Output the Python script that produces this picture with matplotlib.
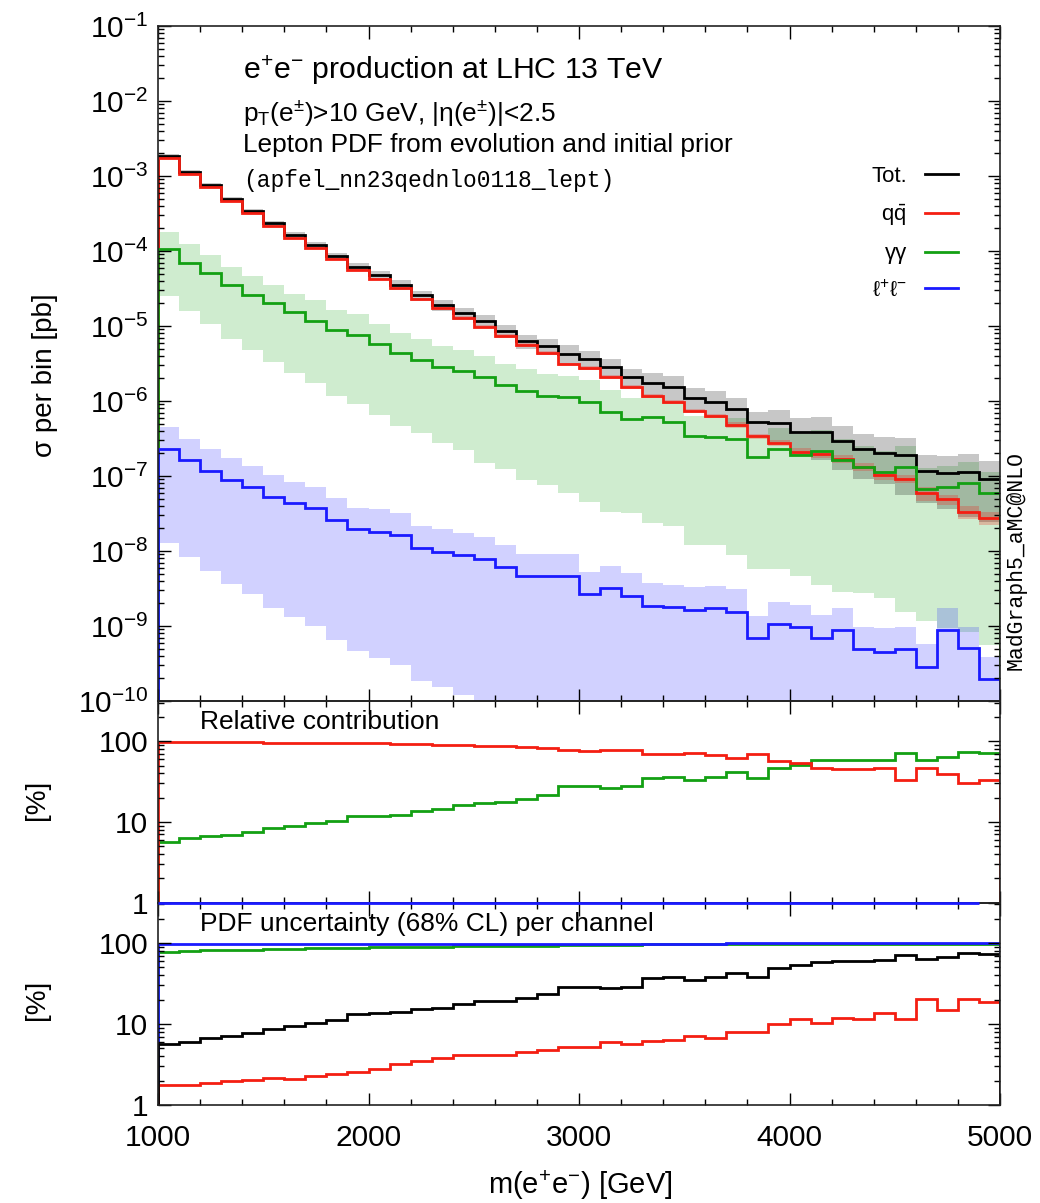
import numpy as np
import matplotlib
matplotlib.use("Agg")
import matplotlib.pyplot as plt
from matplotlib.ticker import LogLocator, MultipleLocator, FixedLocator, FixedFormatter, NullFormatter

plt.rcParams['font.family'] = ['Liberation Sans', 'DejaVu Sans']
plt.rcParams['mathtext.fontset'] = 'custom'
plt.rcParams['mathtext.rm'] = 'Liberation Sans'
plt.rcParams['mathtext.it'] = 'Liberation Sans:italic'
plt.rcParams['mathtext.default'] = 'regular'

# bin edges, m(e+e-) in GeV
edges = np.arange(1000, 5001, 100)

# top panel: log10(sigma per bin / pb)
tot_log = [-2.73, -2.95, -3.12, -3.31, -3.47, -3.63, -3.79, -3.92, -4.07, -4.21,
           -4.32, -4.45, -4.59, -4.72, -4.83, -4.93, -5.07, -5.20, -5.27, -5.37,
           -5.44, -5.55, -5.68, -5.76, -5.81, -5.96, -6.01, -6.11, -6.28, -6.29,
           -6.41, -6.41, -6.53, -6.64, -6.69, -6.72, -6.93, -6.96, -6.95, -7.04]
qq_log = [-2.76, -2.97, -3.15, -3.33, -3.49, -3.67, -3.83, -3.96, -4.11, -4.25,
          -4.37, -4.49, -4.64, -4.76, -4.89, -5.01, -5.13, -5.25, -5.36, -5.51,
          -5.56, -5.68, -5.81, -5.93, -6.01, -6.13, -6.20, -6.32, -6.47, -6.56,
          -6.68, -6.71, -6.77, -6.88, -6.99, -7.04, -7.23, -7.31, -7.48, -7.56]
aa_log = [-3.97, -4.16, -4.29, -4.45, -4.59, -4.69, -4.81, -4.93, -5.05, -5.12,
          -5.24, -5.36, -5.45, -5.55, -5.60, -5.68, -5.79, -5.87, -5.93, -5.95,
          -6.01, -6.15, -6.24, -6.21, -6.28, -6.47, -6.48, -6.51, -6.75, -6.64,
          -6.72, -6.67, -6.79, -6.88, -6.95, -6.88, -7.17, -7.15, -7.09, -7.23]
ll_log = [-6.64, -6.79, -6.93, -7.05, -7.15, -7.28, -7.36, -7.43, -7.59, -7.71,
          -7.75, -7.79, -7.96, -8.01, -8.05, -8.11, -8.21, -8.33, -8.33, -8.33,
          -8.57, -8.49, -8.60, -8.73, -8.75, -8.79, -8.76, -8.81, -9.16, -8.97,
          -9.01, -9.16, -9.05, -9.31, -9.35, -9.31, -9.55, -9.05, -9.29, -9.71]

# band edges for gamma-gamma and l+l- (log10 pb)
aa_up_log = [-3.75, -3.91, -4.05, -4.21, -4.33, -4.45, -4.57, -4.65, -4.79, -4.84,
             -4.97, -5.09, -5.17, -5.27, -5.32, -5.40, -5.51, -5.57, -5.64, -5.67,
             -5.72, -5.85, -5.96, -5.96, -6.03, -6.20, -6.21, -6.23, -6.47, -6.36,
             -6.44, -6.39, -6.51, -6.60, -6.67, -6.60, -6.89, -6.87, -6.81, -6.95]
aa_dn_log = [-4.60, -4.80, -4.97, -5.17, -5.32, -5.48, -5.63, -5.76, -5.93, -6.04,
             -6.19, -6.33, -6.43, -6.56, -6.65, -6.83, -6.91, -7.05, -7.12, -7.23,
             -7.35, -7.48, -7.49, -7.63, -7.67, -7.92, -7.92, -8.05, -8.24, -8.24,
             -8.33, -8.45, -8.55, -8.56, -8.63, -8.81, -8.93, -9.03, -9.08, -9.25]
ll_up_log = [-6.35, -6.51, -6.64, -6.76, -6.87, -6.99, -7.08, -7.15, -7.29, -7.43,
             -7.44, -7.49, -7.67, -7.71, -7.76, -7.81, -7.92, -8.04, -8.04, -8.04,
             -8.28, -8.20, -8.29, -8.43, -8.45, -8.48, -8.47, -8.51, -8.87, -8.68,
             -8.72, -8.85, -8.76, -9.01, -9.03, -9.01, -9.24, -8.76, -9.01, -9.41]
# below the frame from bin 15 on
ll_dn_log = [-7.89, -8.08, -8.27, -8.44, -8.57, -8.76, -8.88, -9.00, -9.19, -9.33,
             -9.43, -9.52, -9.73, -9.81, -9.92, -11.0, -11.0, -11.0, -11.0, -11.0,
             -11.0, -11.0, -11.0, -11.0, -11.0, -11.0, -11.0, -11.0, -11.0, -11.0,
             -11.0, -11.0, -11.0, -11.0, -11.0, -11.0, -11.0, -11.0, -11.0, -11.0]

# middle panel: relative contribution [%]
qq_frac = [99, 99, 98, 98, 97, 96, 96, 95, 94, 94,
           94, 92, 92, 91, 89, 88, 87, 85, 82, 77,
           76, 79, 77, 69, 69, 72, 68, 62, 70, 57,
           54, 46, 45, 45, 46, 33, 46, 39, 30, 33]
aa_frac = [5.7, 6.3, 6.7, 6.9, 7.6, 8.4, 8.9, 9.8, 10.2, 11.9,
           12.0, 12.2, 13.8, 14.5, 16.4, 17.4, 17.9, 19.2, 21.8, 27.6,
           28.0, 26.4, 27.6, 35.2, 36.2, 32.8, 36.2, 41.3, 35.2, 46.9,
           50.1, 57.9, 57.9, 58.4, 57.9, 72.2, 58.4, 64.4, 74.3, 72.2]

# bottom panel: PDF uncertainty (68% CL) [%]
tot_unc = [5.6, 6.0, 6.7, 7.1, 7.8, 8.7, 9.4, 10.4, 11.2, 13.2,
           13.5, 14.1, 15.5, 15.8, 17.6, 19.0, 19.4, 20.7, 23.5, 29.0,
           28.4, 28.2, 29.0, 36.5, 37.6, 34.5, 37.6, 42.2, 37.6, 48.7,
           53.1, 57.9, 59.6, 59.6, 61.3, 70.8, 63.1, 66.8, 75.0, 72.9]
qq_unc = [1.76, 1.79, 1.85, 1.98, 2.04, 2.13, 2.10, 2.30, 2.42, 2.53,
          2.79, 3.19, 3.45, 3.79, 4.10, 4.10, 4.18, 4.51, 4.83, 5.20,
          5.20, 6.01, 5.74, 6.25, 6.37, 7.08, 6.63, 8.01, 7.94, 9.9,
          11.5, 10.3, 12.0, 11.5, 13.5, 11.5, 20.1, 15.1, 20.5, 18.5]
aa_unc = [78, 80, 82, 82, 83, 84, 85, 86, 87, 87,
          88, 89, 89, 90, 91, 91, 92, 93, 93, 94,
          95, 95, 95, 96, 96, 96, 97, 97, 97, 97,
          98, 98, 98, 98, 98, 98, 98, 98, 98, 98]
ll_unc = [97, 97, 97, 97, 97, 97, 97, 97, 97, 97,
          97, 97, 97, 97, 98, 98, 98, 98, 98, 98,
          98, 98, 98, 98, 98, 98, 98, 99, 99, 99,
          99, 99, 99, 99, 99, 99, 99, 99, 99, 99]

c_tot = 'black'
c_qq = '#f41e12'
c_aa = '#13a013'
c_ll = '#1a1aff'
lw = 2.0

tot = 10**np.array(tot_log)
qq = 10**np.array(qq_log)
aa = 10**np.array(aa_log)
ll = 10**np.array(ll_log)
tu = np.array(tot_unc) / 100.
qu = np.array(qq_unc) / 100.

W, H = 1040, 1203
fig = plt.figure(figsize=(W/100, H/100), dpi=100)
left, width = 158/W, 842/W
ax1 = fig.add_axes([left, 1-701/H, width, 675/H])
ax2 = fig.add_axes([left, 1-902.5/H, width, 201.5/H])
ax3 = fig.add_axes([left, 1-1105/H, width, 202.5/H])
ax2.set_zorder(2)   # so the l+l- line on its lower edge stays on top
ax2.patch.set_alpha(0)

# ---- main panel
ax1.stairs(10**np.array(aa_up_log), edges, baseline=10**np.array(aa_dn_log), fill=True, color=c_aa, alpha=0.2, lw=0)
ax1.stairs(10**np.array(ll_up_log), edges, baseline=10**np.array(ll_dn_log), fill=True, color=c_ll, alpha=0.2, lw=0)
ax1.stairs(tot*(1+tu), edges, baseline=tot*(1-tu), fill=True, color='black', alpha=0.22, lw=0)
ax1.stairs(qq*(1+qu), edges, baseline=qq*(1-qu), fill=True, color=c_qq, alpha=0.25, lw=0)

ymin1 = 1e-10
h_tot = ax1.stairs(tot, edges, baseline=ymin1, color=c_tot, lw=lw, label='Tot.')
h_qq = ax1.stairs(qq, edges, baseline=ymin1, color=c_qq, lw=lw, label=r'$q\bar{q}$')
h_aa = ax1.stairs(aa, edges, baseline=ymin1, color=c_aa, lw=lw, label='γγ')
h_ll = ax1.stairs(ll, edges, baseline=ymin1, color=c_ll, lw=lw, label=r'$\ell^{+}\ell^{-}$')
ax1.set_yscale('log')
ax1.set_ylim(1e-10, 1e-1)
ax1.yaxis.set_major_locator(LogLocator(base=10, numticks=20))
ax1.yaxis.set_minor_locator(LogLocator(base=10, subs=np.arange(2, 10), numticks=20))
ax1.yaxis.set_minor_formatter(NullFormatter())

leg = ax1.legend(handles=[h_tot, h_qq, h_aa, h_ll], loc='upper right',
                 bbox_to_anchor=(958/W, 1-166/H), bbox_transform=fig.transFigure,
                 frameon=False, markerfirst=False, fontsize=16, handlelength=1.5,
                 handletextpad=0.8, labelspacing=0.7, borderpad=0, borderaxespad=0)

# ---- relative contribution
ax2.stairs(aa_frac, edges, baseline=1, color=c_aa, lw=lw)
ax2.stairs(qq_frac, edges, baseline=1, color=c_qq, lw=lw)
ll_frac = np.clip(100*ll/tot, 1, None)
ax2.stairs(ll_frac[:-1], edges[:-1], baseline=None, color=c_ll, lw=lw, clip_on=False, zorder=3)

# ---- PDF uncertainty per channel
ax3.stairs(aa_unc, edges, baseline=1, color=c_aa, lw=lw)
ax3.stairs(ll_unc, edges, baseline=1, color=c_ll, lw=lw)
ax3.stairs(qq_unc, edges, baseline=1, color=c_qq, lw=lw)
ax3.stairs(tot_unc, edges, baseline=1, color=c_tot, lw=lw)

for ax in (ax2, ax3):
    ax.set_yscale('log')
    ax.set_ylim(1, 10**2.5)
    ax.yaxis.set_major_locator(FixedLocator([1, 10, 100]))
    ax.yaxis.set_major_formatter(FixedFormatter(['1', '10', '100']))
    ax.yaxis.set_minor_locator(LogLocator(base=10, subs=np.arange(2, 10), numticks=10))
    ax.yaxis.set_minor_formatter(NullFormatter())

for ax in (ax1, ax2, ax3):
    ax.set_xlim(1000, 5000)
    ax.xaxis.set_major_locator(MultipleLocator(1000))
    ax.xaxis.set_minor_locator(MultipleLocator(200))
    ax.tick_params(which='both', direction='in', top=True, right=True, labelsize=21.5, pad=7)
    ax.tick_params(which='major', length=9, width=1.0)
    ax.tick_params(which='minor', length=4.5, width=1.0)
    for s in ax.spines.values():
        s.set_linewidth(1.2)
        s.set_color('#222222')
    if ax is not ax3:
        ax.tick_params(labelbottom=False)
ax3.tick_params(axis='x', pad=14)

# ---- texts
fig.text(243/W, 1-70/H, r'e$^{+}$e$^{-}$ production at LHC 13 TeV', fontsize=21.8, va='center')
fig.text(243/W, 1-113/H, r'p$_{T}$(e$^{\pm}$)>10 GeV, |η(e$^{\pm}$)|<2.5', fontsize=18.9, va='center')
fig.text(243/W, 1-145/H, 'Lepton PDF from evolution and initial prior', fontsize=18.9, va='center')
fig.text(243/W, 1-180/H, '(apfel_nn23qednlo0118_lept)', fontsize=16.5, va='center', family='Liberation Mono')
fig.text(1016/W, 1-561/H, 'MadGraph5_aMC@NLO', fontsize=15.5, va='center', ha='center',
         rotation=90, family='Liberation Mono')
fig.text(200/W, 1-722/H, 'Relative contribution', fontsize=19, va='center')
fig.text(200/W, 1-924/H, 'PDF uncertainty (68% CL) per channel', fontsize=19, va='center')

fig.text(45/W, 1-375/H, 'σ per bin [pb]', fontsize=20, va='center', ha='center', rotation=90)
fig.text(37/W, 1-800/H, '[%]', fontsize=20, va='center', ha='center', rotation=90)
fig.text(37/W, 1-1000/H, '[%]', fontsize=20, va='center', ha='center', rotation=90)
fig.text(580/W, 1-1185/H, r'm(e$^{+}$e$^{-}$) [GeV]', fontsize=21, va='center', ha='center')

fig.savefig('out.png', dpi=100)
